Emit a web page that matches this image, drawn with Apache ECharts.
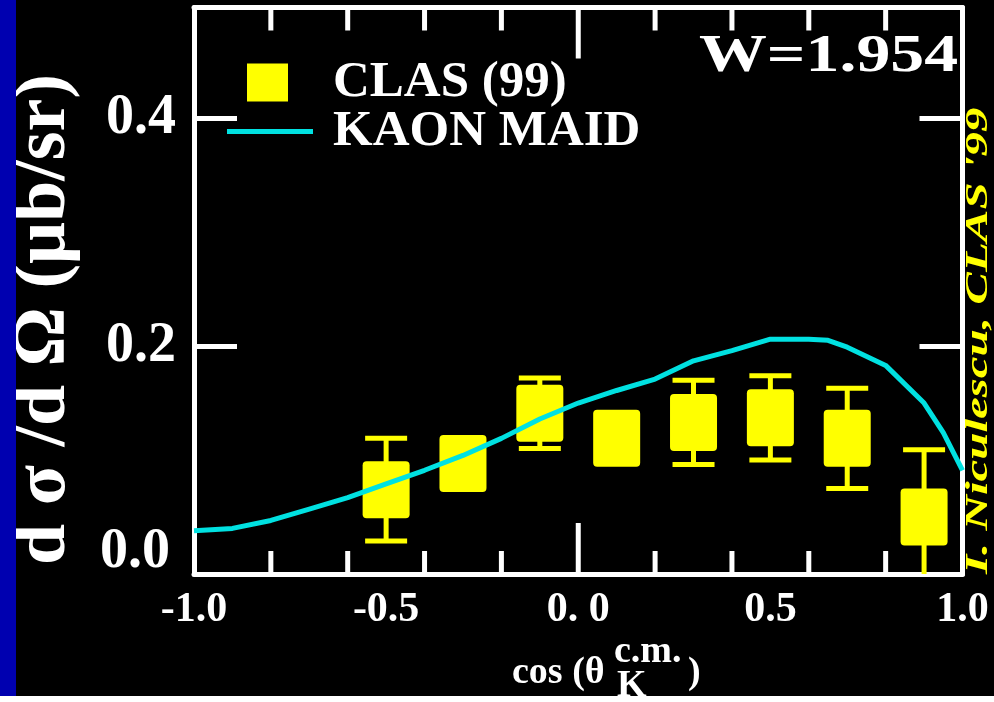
<!DOCTYPE html>
<html>
<head>
<meta charset="utf-8">
<script src="https://cdn.jsdelivr.net/npm/echarts@6/dist/echarts.min.js"></script>
<style>
  html, body { margin: 0; padding: 0; background: #000; }
  #chart { width: 994px; height: 702px; }
</style>
</head>
<body>
<div id="chart"></div>
<script>
// Axis ticks and tick labels
const xTickValues = [-1, -0.5, 0, 0.5, 1];
const xTickLabels = ['-1.0', '-0.5', '0. 0', '0.5', '1.0'];
const xMajorTicks = [0];
const xMinorTicks = [-0.8, -0.6, -0.4, -0.2, 0.2, 0.4, 0.6, 0.8];
const yTickValues = [0, 0.2, 0.4];
const yTickLabels = ['0.0', '0.2', '0.4'];
const yMajorTicks = [0.2, 0.4];

// CLAS (99) measured cross sections at W = 1.954 GeV
const clasCos = [-0.5, -0.3, -0.1, 0.1, 0.3, 0.5, 0.7, 0.9];
const clasDsig = [0.074, 0.097, 0.141, 0.119, 0.133, 0.137, 0.119, 0.050];
const clasErr = [0.045, 0.020, 0.031, 0.020, 0.037, 0.037, 0.044, 0.059];

// KAON MAID model curve
const maidCos = [-1.0, -0.9, -0.8, -0.7, -0.6, -0.5, -0.4, -0.3, -0.2, -0.1, 0.0,
                 0.1, 0.2, 0.3, 0.4, 0.5, 0.6, 0.65, 0.7, 0.8, 0.9, 0.95, 1.0];
const maidDsig = [0.038, 0.040, 0.047, 0.057, 0.067, 0.079, 0.091, 0.104, 0.119, 0.136, 0.150,
                  0.161, 0.171, 0.187, 0.196, 0.206, 0.206, 0.205, 0.199, 0.183, 0.150, 0.124, 0.091];

const SERIF = '"Liberation Serif", "Times New Roman", serif';
const YELLOW = '#ffff00';
const CYAN = '#00e1e1';
const Y_MIN = 0, Y_MAX = 0.497;
const MAJOR_LEN = 51, MINOR_LEN = 23, TICK_W = 5;
const GRID = { left: 194, right: 31.5, top: 7.5, bottom: 128 };

const chart = echarts.init(document.getElementById('chart'), null, { renderer: 'canvas' });

function labelFor(values, labels, v) {
  const i = values.findIndex(t => Math.abs(t - v) < 1e-9);
  return i >= 0 ? labels[i] : '';
}

const tickStyle = { color: '#fff', width: TICK_W };
const frameLine = { show: true, onZero: false, lineStyle: { color: '#fff', width: 5 } };

function xAxisDef(position, withLabels) {
  return {
    type: 'value', min: -1, max: 1, position: position,
    axisLine: frameLine,
    splitLine: { show: false },
    axisTick: { show: false },
    axisLabel: withLabels ? {
      show: true, customValues: xTickValues, margin: 15,
      color: '#fff', fontFamily: SERIF, fontWeight: 'bold', fontSize: 42,
      formatter: v => labelFor(xTickValues, xTickLabels, v)
    } : { show: false }
  };
}

function yAxisDef(position, withLabels) {
  return {
    type: 'value', min: Y_MIN, max: Y_MAX, position: position,
    axisLine: frameLine,
    splitLine: { show: false },
    axisTick: { show: true, inside: true, length: 43, customValues: yMajorTicks, lineStyle: tickStyle },
    axisLabel: withLabels ? {
      show: true, customValues: yTickValues, margin: 18,
      color: '#fff', fontFamily: SERIF, fontWeight: 'bold', fontSize: 56,
      formatter: v => {
        const s = labelFor(yTickValues, yTickLabels, v);
        return v === 0 ? '{low|' + s + '}' : s;
      },
      rich: {
        low: { color: '#fff', fontFamily: SERIF, fontWeight: 'bold', fontSize: 56, padding: [0, 6, 42, 0] }
      }
    } : { show: false }
  };
}

// all frame ticks along cos(theta): [value, length in px]
const xFrameTicks = xMajorTicks.map(v => [v, MAJOR_LEN]).concat(xMinorTicks.map(v => [v, MINOR_LEN]));

const textStyleBase = { textAlign: 'left', textVerticalAlign: 'middle', align: 'left', verticalAlign: 'middle' };

const graphicElements = [
  {
    type: 'text', x: 45, y: 565, rotation: Math.PI / 2, z: 50,
    style: Object.assign({ text: 'd σ /d Ω (μb/sr)', fill: '#fff', font: 'bold 74px ' + SERIF }, textStyleBase)
  },
  {
    type: 'text', x: 979, y: 574, rotation: Math.PI / 2, scaleX: 1.53, z: 50,
    style: Object.assign({ text: "I. Niculescu, CLAS '99", fill: YELLOW, font: 'italic bold 32px ' + SERIF }, textStyleBase)
  },
  {
    type: 'text', x: 699, y: 57, scaleX: 1.28, z: 50,
    style: Object.assign({ text: 'W=1.954', fill: '#fff', font: 'bold 53px ' + SERIF }, textStyleBase)
  },
  {
    type: 'text', x: 512, y: 673, z: 50,
    style: Object.assign({ text: 'cos (θ', fill: '#fff', font: 'bold 38px ' + SERIF }, textStyleBase)
  },
  {
    type: 'text', x: 614, y: 652, z: 50,
    style: Object.assign({ text: 'c.m.', fill: '#fff', font: 'bold 38px ' + SERIF }, textStyleBase)
  },
  {
    type: 'text', x: 617, y: 686, z: 50,
    style: Object.assign({ text: 'K', fill: '#fff', font: 'bold 38px ' + SERIF }, textStyleBase)
  },
  {
    type: 'text', x: 688, y: 673, z: 50,
    style: Object.assign({ text: ')', fill: '#fff', font: 'bold 38px ' + SERIF }, textStyleBase)
  },
  {
    type: 'rect', z: 100,
    shape: { x: 0, y: 0, width: 16, height: 696 },
    style: { fill: '#0000b0' }
  },
  {
    type: 'rect', z: 100,
    shape: { x: 0, y: 696, width: 994, height: 6 },
    style: { fill: '#ffffff' }
  }
];

const option = {
  backgroundColor: '#000',
  animation: false,
  grid: Object.assign({ containLabel: false }, GRID),
  xAxis: [xAxisDef('bottom', true), xAxisDef('top', false)],
  yAxis: [yAxisDef('left', true), yAxisDef('right', false)],
  legend: [
    {
      data: ['CLAS (99)'], left: 247, top: 57, padding: 0,
      icon: 'rect', itemWidth: 41, itemHeight: 38,
      selectedMode: false,
      textStyle: { color: '#fff', fontFamily: SERIF, fontWeight: 'bold', fontSize: 51, padding: [6, 0, 0, 40] }
    },
    {
      data: ['KAON MAID'], left: 227, top: 106, padding: 0,
      icon: 'rect', itemWidth: 86, itemHeight: 5,
      selectedMode: false,
      textStyle: { color: '#fff', fontFamily: SERIF, fontWeight: 'bold', fontSize: 51, padding: [10, 0, 0, 15] }
    }
  ],
  series: [
    {
      // top-edge frame ticks, placed through the x scale
      type: 'custom',
      silent: true,
      z: 1,
      data: xFrameTicks.map(([v, len]) => [v, Y_MAX, len]),
      encode: { x: 0, y: 1 },
      renderItem: function (params, api) {
        const x = api.value(0), len = api.value(2);
        const top = api.coord([x, Y_MAX]);
        return {
          type: 'rect',
          shape: { x: top[0] - TICK_W / 2, y: top[1], width: TICK_W, height: len },
          style: { fill: '#fff' }
        };
      }
    },
    {
      // statistical error bars
      name: 'CLAS (99)',
      type: 'custom',
      z: 3,
      itemStyle: { color: YELLOW },
      data: clasCos.map((c, i) => [c, clasDsig[i], clasErr[i]]),
      encode: { x: 0, y: 1 },
      renderItem: function (params, api) {
        const x = api.value(0), y = api.value(1), e = api.value(2);
        const hiVal = Math.min(y + e, Y_MAX);
        const loVal = Math.max(y - e, Y_MIN);
        const top = api.coord([x, hiVal]);
        const bot = api.coord([x, loVal]);
        const capW = 42, th = 5;
        const style = { fill: YELLOW };
        const children = [
          { type: 'rect', shape: { x: top[0] - th / 2, y: top[1], width: th, height: bot[1] - top[1] }, style }
        ];
        if (y + e <= Y_MAX) {
          children.push({ type: 'rect', shape: { x: top[0] - capW / 2, y: top[1] - th / 2, width: capW, height: th }, style });
        }
        if (y - e >= Y_MIN) {
          children.push({ type: 'rect', shape: { x: bot[0] - capW / 2, y: bot[1] - th / 2, width: capW, height: th }, style });
        }
        return { type: 'group', children };
      }
    },
    {
      name: 'CLAS (99)',
      type: 'scatter',
      z: 4,
      symbol: 'path://M4,0H43Q47,0 47,4V53Q47,57 43,57H4Q0,57 0,53V4Q0,0 4,0Z',
      symbolSize: [47, 57],
      itemStyle: { color: YELLOW, opacity: 1 },
      data: clasCos.map((c, i) => [c, clasDsig[i]])
    },
    {
      name: 'KAON MAID',
      type: 'line',
      z: 5,
      showSymbol: false,
      symbol: 'none',
      smooth: false,
      itemStyle: { color: CYAN },
      lineStyle: { color: CYAN, width: 5 },
      data: maidCos.map((c, i) => [c, maidDsig[i]])
    }
  ],
  graphic: graphicElements
};

chart.setOption(option);

// bottom-edge frame ticks: x from the axis scale, rising from the bottom frame line
const frameBottom = chart.getHeight() - GRID.bottom;
const bottomTickRects = xFrameTicks.map(([v, len]) => {
  let px = chart.convertToPixel({ xAxisIndex: 0 }, v);
  if (!isFinite(px)) {
    px = GRID.left + (v + 1) / 2 * (chart.getWidth() - GRID.left - GRID.right);
  }
  return {
    type: 'rect', z: 60, silent: true,
    shape: { x: px - TICK_W / 2, y: frameBottom - len, width: TICK_W, height: len },
    style: { fill: '#ffffff' }
  };
});
chart.setOption({ graphic: graphicElements.concat(bottomTickRects) });
</script>
</body>
</html>
